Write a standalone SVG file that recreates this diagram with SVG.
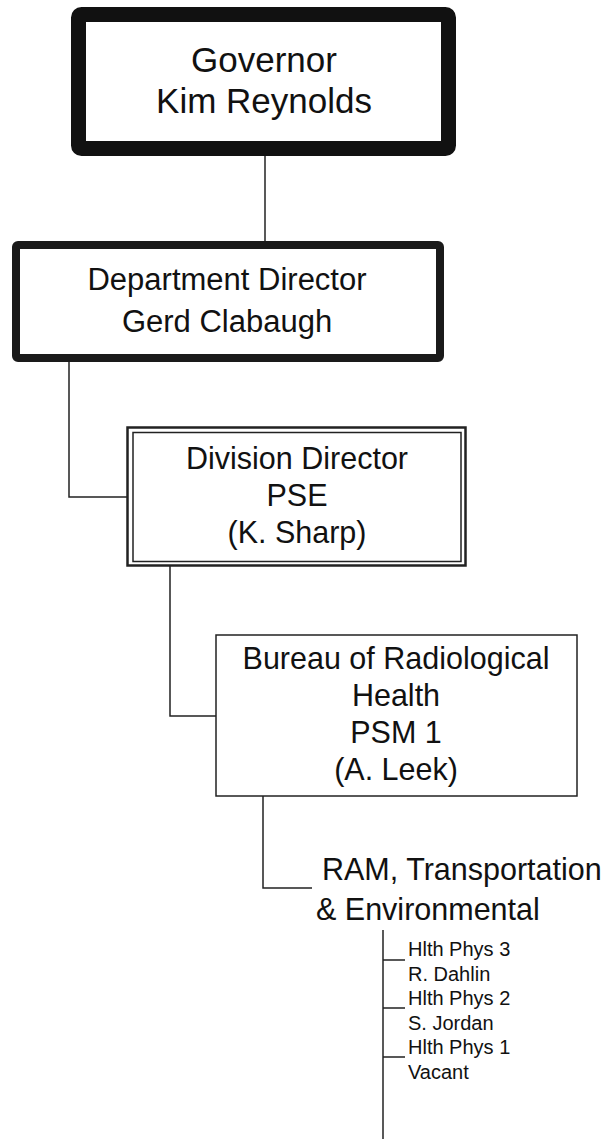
<svg xmlns="http://www.w3.org/2000/svg" width="611" height="1139" viewBox="0 0 611 1139">
<style>
text{font-family:"Liberation Sans",Arial,sans-serif;fill:#111;}
.gov{font-size:35px;text-anchor:middle;}
.big{font-size:31px;text-anchor:middle;}
.mid{font-size:30.5px;text-anchor:middle;}
.ram{font-size:30.5px;}
.sm{font-size:20px;}
.ln{stroke:#222;stroke-width:1.5;fill:none;}
</style>
<rect width="611" height="1139" fill="#fff"/>
<g id="connectors">
<path class="ln" d="M265 156V241"/>
<path class="ln" d="M69 362V497H127"/>
<path class="ln" d="M170 566V716H216"/>
<path class="ln" d="M263 796V888H312"/>
<path class="ln" d="M383 930V1139"/>
<path class="ln" d="M383 960H405M383 1008H405M383 1057H405"/>
</g>
<g id="governor">
<rect x="78.5" y="14.5" width="370" height="134" rx="3" fill="#fff" stroke="#111" stroke-width="15"/>
<text class="gov" x="264" y="72">Governor</text>
<text class="gov" x="264" y="113">Kim Reynolds</text>
</g>
<g id="dept">
<rect x="16" y="245" width="424" height="113" rx="2" fill="#fff" stroke="#1a1a1a" stroke-width="8"/>
<text class="big" x="227" y="290">Department Director</text>
<text class="big" x="227" y="332">Gerd Clabaugh</text>
</g>
<g id="division">
<rect x="127.5" y="427.5" width="338" height="138" fill="#fff" stroke="#222" stroke-width="2.5"/>
<rect x="133" y="432.5" width="328" height="129" fill="none" stroke="#222" stroke-width="1.5"/>
<text class="mid" x="297" y="469">Division Director</text>
<text class="mid" x="297" y="506">PSE</text>
<text class="mid" x="297" y="543">(K. Sharp)</text>
</g>
<g id="bureau">
<rect x="216" y="635" width="361" height="161" fill="#fff" stroke="#222" stroke-width="1.5"/>
<text class="mid" x="396" y="669">Bureau of Radiological</text>
<text class="mid" x="396" y="706">Health</text>
<text class="mid" x="396" y="743">PSM 1</text>
<text class="mid" x="396" y="780">(A. Leek)</text>
</g>
<g id="ram">
<text class="ram" x="322" y="880">RAM, Transportation</text>
<text class="ram" x="316" y="920">&amp; Environmental</text>
</g>
<g id="staff">
<text class="sm" x="408" y="956">Hlth Phys 3</text>
<text class="sm" x="408" y="981">R. Dahlin</text>
<text class="sm" x="408" y="1005">Hlth Phys 2</text>
<text class="sm" x="408" y="1030">S. Jordan</text>
<text class="sm" x="408" y="1054">Hlth Phys 1</text>
<text class="sm" x="408" y="1079">Vacant</text>
</g>
</svg>
